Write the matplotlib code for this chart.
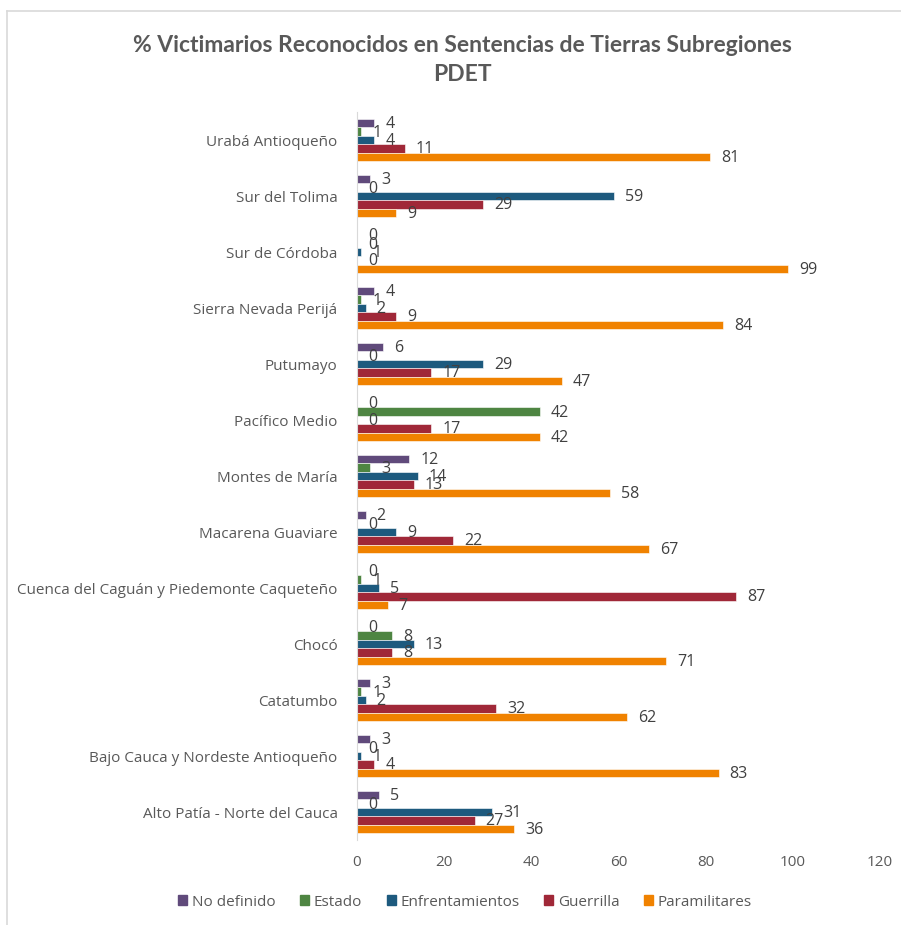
import numpy as np
import matplotlib.pyplot as plt
from matplotlib.lines import Line2D

plt.rcParams['font.family'] = ['Open Sans', 'DejaVu Sans']

# datos (de arriba hacia abajo)
regiones = ['Urabá Antioqueño', 'Sur del Tolima', 'Sur de Córdoba', 'Sierra Nevada Perijá',
            'Putumayo', 'Pacífico Medio', 'Montes de María', 'Macarena Guaviare',
            'Cuenca del Caguán y Piedemonte Caqueteño', 'Chocó', 'Catatumbo',
            'Bajo Cauca y Nordeste Antioqueño', 'Alto Patía - Norte del Cauca']
series = ['No definido', 'Estado', 'Enfrentamientos', 'Guerrilla', 'Paramilitares']
no_definido = [4, 3, 0, 4, 6, 0, 12, 2, 0, 0, 3, 3, 5]
estado = [1, 0, 0, 1, 0, 42, 3, 0, 1, 8, 1, 0, 0]
enfrentamientos = [4, 59, 1, 2, 29, 0, 14, 9, 5, 13, 2, 1, 31]
guerrilla = [11, 29, 0, 9, 17, 17, 13, 22, 87, 8, 32, 4, 27]
paramilitares = [81, 9, 99, 84, 47, 42, 58, 67, 7, 71, 62, 83, 36]
colores = ['#604A7B', '#4E8542', '#1D5A7E', '#A02838', '#F08200']

valores = [no_definido, estado, enfrentamientos, guerrilla, paramilitares]
gris = '#595959'

fig = plt.figure(figsize=(9.01, 9.25), dpi=100)
ax = fig.add_axes([357/901, 1-840/925, (880-357)/901, (840-112)/925])

n = len(regiones)
y = np.arange(n)[::-1]  # primera region arriba
h = 0.15
for i, (s, vals, c) in enumerate(zip(series, valores, colores)):
    pos = y + (2 - i) * h
    bars = ax.barh(pos, vals, height=h, color=c, label=s, edgecolor='white', linewidth=0.4)
    for b, v in zip(bars, vals):
        ax.annotate(str(v), (v, b.get_y() + h/2), xytext=(11, -1), textcoords='offset pixels',
                    va='center', ha='left', fontsize=11.5, color='#404040')

ax.set_xlim(0, 120)
ax.set_ylim(-0.5, n - 0.5)
ax.set_xticks(np.arange(0, 121, 20))
ax.set_yticks(y)
ax.set_yticklabels(regiones)
ax.tick_params(axis='both', length=0, labelsize=11, labelcolor=gris)
ax.tick_params(axis='x', pad=11)
ax.tick_params(axis='y', pad=14)
for sp in ['top', 'right', 'bottom']:
    ax.spines[sp].set_visible(False)
ax.spines['left'].set_color('#D9D9D9')

fig.text(462/901, 1-60/925, '% Victimarios Reconocidos en Sentencias de Tierras Subregiones\nPDET',
         ha='center', va='center', fontsize=16.5, fontweight='bold', color=gris,
         family=['Liberation Sans Narrow', 'Lato', 'DejaVu Sans'], linespacing=1.45)

handles = [plt.Rectangle((0, 0), 1, 1, color=c) for c in colores]
fig.legend(handles, series, loc='center', bbox_to_anchor=(465/901, 1-902/925), ncol=5,
           frameon=False, fontsize=11, labelcolor=gris, handlelength=0.6, handleheight=0.6,
           handletextpad=0.3, columnspacing=1.6)

# borde del grafico
fig.add_artist(Line2D([7/901, 7/901], [0, 1-11/925], color='#D9D9D9', lw=1.2))
fig.add_artist(Line2D([7/901, 1], [1-11/925, 1-11/925], color='#D9D9D9', lw=1.2))

fig.savefig('out.png', dpi=100)
